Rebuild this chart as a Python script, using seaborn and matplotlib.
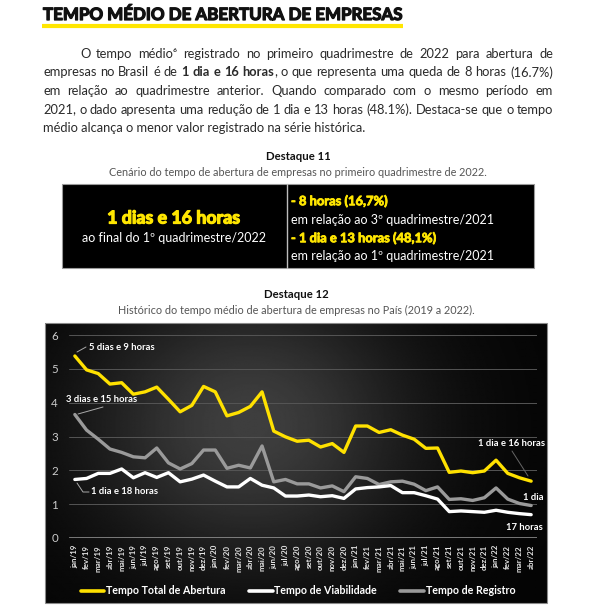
import numpy as np
import pandas as pd
import matplotlib
matplotlib.use("Agg")
import matplotlib.pyplot as plt
import matplotlib.patheffects as pe
from matplotlib.patches import Rectangle
import seaborn as sns

# ---------------- data ----------------
months = ["jan/19", "fev/19", "mar/19", "abr/19", "mai/19", "jun/19", "jul/19", "ago/19",
          "set/19", "out/19", "nov/19", "dez/19", "jan/20", "fev/20", "mar/20", "abr/20",
          "mai/20", "jun/20", "jul/20", "ago/20", "set/20", "out/20", "nov/20", "dez/20",
          "jan/21", "fev/21", "mar/21", "abr/21", "mai/21", "jun/21", "jul/21", "ago/21",
          "set/21", "out/21", "nov/21", "dez/21", "jan/22", "fev/22", "mar/22", "abr/22"]
total = [5.38, 4.97, 4.86, 4.55, 4.59, 4.25, 4.32, 4.46, 4.10, 3.73, 3.92, 4.48,
         4.32, 3.61, 3.71, 3.89, 4.32, 3.16, 2.99, 2.86, 2.89, 2.69, 2.79, 2.53,
         3.31, 3.31, 3.12, 3.20, 3.04, 2.92, 2.65, 2.66, 1.94, 1.98, 1.93, 1.98,
         2.30, 1.91, 1.78, 1.68]
viabilidade = [1.73, 1.76, 1.91, 1.91, 2.04, 1.78, 1.93, 1.79, 1.93, 1.66, 1.74, 1.86,
               1.68, 1.51, 1.51, 1.76, 1.56, 1.48, 1.24, 1.24, 1.27, 1.22, 1.25, 1.17,
               1.45, 1.49, 1.51, 1.55, 1.34, 1.34, 1.25, 1.15, 0.78, 0.80, 0.78, 0.76,
               0.82, 0.76, 0.72, 0.69]
registro = [3.65, 3.19, 2.92, 2.63, 2.53, 2.40, 2.37, 2.66, 2.22, 2.04, 2.20, 2.60,
            2.60, 2.06, 2.15, 2.07, 2.72, 1.66, 1.73, 1.60, 1.60, 1.48, 1.54, 1.37,
            1.81, 1.76, 1.58, 1.66, 1.68, 1.59, 1.40, 1.51, 1.14, 1.16, 1.11, 1.19,
            1.48, 1.15, 1.02, 0.96]
series_names = ["Tempo Total de Abertura", "Tempo de Viabilidade", "Tempo de Registro"]
series_colors = ["#FFE100", "#FFFFFF", "#9A9A9A"]
yticks = [0, 1, 2, 3, 4, 5, 6]

title = "TEMPO MÉDIO DE ABERTURA DE EMPRESAS"
para_lines = [
    [("O", "normal"), ("tempo", "normal"), ("médio⁶", "normal"), ("registrado", "normal"),
     ("no", "normal"), ("primeiro", "normal"), ("quadrimestre", "normal"), ("de", "normal"),
     ("2022", "normal"), ("para", "normal"), ("abertura", "normal"), ("de", "normal")],
    [("empresas", "normal"), ("no", "normal"), ("Brasil", "normal"), ("é", "normal"),
     ("de", "normal"), ("1", "bold"), ("dia", "bold"), ("e", "bold"), ("16", "bold"),
     ("horas|,", "bold|normal"), ("o", "normal"), ("que", "normal"), ("representa", "normal"),
     ("uma", "normal"), ("queda", "normal"), ("de", "normal"), ("8", "normal"),
     ("horas", "normal"), ("(16.7%)", "normal")],
    [("em", "normal"), ("relação", "normal"), ("ao", "normal"), ("quadrimestre", "normal"),
     ("anterior.", "normal"), ("Quando", "normal"), ("comparado", "normal"), ("com", "normal"),
     ("o", "normal"), ("mesmo", "normal"), ("período", "normal"), ("em", "normal")],
    [("2021,", "normal"), ("o", "normal"), ("dado", "normal"), ("apresenta", "normal"),
     ("uma", "normal"), ("redução", "normal"), ("de", "normal"), ("1", "normal"),
     ("dia", "normal"), ("e", "normal"), ("13", "normal"), ("horas", "normal"),
     ("(48.1%).", "normal"), ("Destaca-se", "normal"), ("que", "normal"), ("o", "normal"),
     ("tempo", "normal")],
]
para_last = "médio alcança o menor valor registrado na série histórica."

# ---------------- figure ----------------
sns.set_theme(style="white")
FAM = ["Lato", "DejaVu Sans"]
plt.rcParams["font.family"] = FAM

W, H = 600, 608
fig = plt.figure(figsize=(W / 100, H / 100), dpi=100)
fig.patch.set_facecolor("white")

def fbox(x0, y0, x1, y1):
    return [x0 / W, 1 - y1 / H, (x1 - x0) / W, (y1 - y0) / H]

def heavy(color, w=0.7):
    return [pe.withStroke(linewidth=w, foreground=color)]

# chart background with radial glow
bx0, by0, bx1, by1 = 45, 323, 547, 603
bg = fig.add_axes(fbox(bx0, by0, bx1, by1))
xx, yy = np.meshgrid(np.linspace(bx0, bx1, 400), np.linspace(by0, by1, 240))
glow = 0.015 + 0.23 * np.exp(-((xx - 250) / 165) ** 2 - ((yy - 425) / 140) ** 2)
bg.imshow(glow, cmap="gray", vmin=0, vmax=1, aspect="auto",
          extent=[bx0, bx1, by1, by0], interpolation="bilinear")
bg.set_xlim(bx0, bx1); bg.set_ylim(by1, by0)
bg.axis("off")

# main chart axes
ax = fig.add_axes(fbox(69, 335, 537, 538))
ax.patch.set_alpha(0)
x = np.arange(len(months))
order = [(registro, 2), (viabilidade, 1), (total, 0)]
handles = {}
for vals, k in order:
    df = pd.DataFrame({"mes": x, "valor": vals})
    sns.lineplot(data=df, x="mes", y="valor", ax=ax, color=series_colors[k],
                 linewidth=2.4, label=series_names[k], legend=False)
    handles[k] = ax.lines[-1]
ax.set_xlim(-0.5, 39.5)
ax.set_ylim(0, 6)
ax.set_yticks(yticks)
ax.set_yticklabels([str(v) for v in yticks])
ax.set_xticks(x)
ax.set_xticklabels(months, rotation=90)
ax.grid(axis="y", color="#555555", linewidth=0.7)
ax.grid(axis="x", visible=False)
ax.axhline(0, color="#9a9a9a", linewidth=1.8, zorder=1)
for s in ax.spines.values():
    s.set_visible(False)
ax.tick_params(axis="y", length=0, pad=8, labelsize=8.3, labelcolor="#cccccc")
ax.tick_params(axis="x", length=0, pad=5, labelsize=5.7, labelcolor="#e6e6e6")
for lab in ax.get_xticklabels():
    lab.set_fontweight("bold")
ax.set_xlabel(""); ax.set_ylabel("")

leg = fig.legend([handles[0], handles[1], handles[2]], series_names,
                 loc="center", bbox_to_anchor=(298 / W, 1 - 591 / H), ncol=3,
                 frameon=False, handlelength=2.2, handletextpad=0.15, columnspacing=2.2,
                 prop={"family": FAM, "weight": "bold", "size": 7.7})
for t in leg.get_texts():
    t.set_color("white")
for h in leg.legend_handles:
    h.set_linewidth(2.6)

# overlay axes in pixel coords
ov = fig.add_axes([0, 0, 1, 1])
ov.set_xlim(0, W); ov.set_ylim(H, 0)
ov.axis("off")

ov.add_patch(Rectangle((bx0, by0), bx1 - bx0, by1 - by0, fill=False,
                       edgecolor="#8a8a8a", linewidth=0.8))

# title
ov.text(43, 15, title, fontsize=12.2, fontweight="bold", color="#111111",
        ha="left", va="center", path_effects=heavy("#111111", 0.9))
ov.plot([42, 403], [25.5, 25.5], color="#FFE600", linewidth=3, solid_capstyle="butt")

# paragraph (justified)
renderer = fig.canvas.get_renderer()
PS = 9.3
PC = "#2a2a2a"

def seg_width(text, weight):
    t = ov.text(0, 0, text, fontsize=PS, fontweight=weight, family=FAM)
    w = t.get_window_extent(renderer).width
    t.remove()
    return w

line_y = [54, 72.5, 91, 109.5, 128]
left, right = 43, 553
for li, words in enumerate(para_lines):
    x0 = 80 if li == 0 else left
    pieces = []
    total_w = 0
    for txt, wt in words:
        segs = list(zip(txt.split("|"), wt.split("|")))
        ws = [seg_width(s, w) for s, w in segs]
        pieces.append((segs, ws))
        total_w += sum(ws)
    gap = (right - x0 - total_w) / (len(words) - 1)
    cx = x0
    for segs, ws in pieces:
        for (s, w), sw in zip(segs, ws):
            ov.text(cx, line_y[li], s, fontsize=PS, fontweight=w, color=PC,
                    ha="left", va="center", family=FAM)
            cx += sw
        cx += gap
ov.text(left, line_y[4], para_last, fontsize=PS, color=PC, ha="left", va="center")

# Destaque 11
ov.text(298, 156, "Destaque 11", fontsize=8.2, fontweight="bold", color="#111111",
        ha="center", va="center")
ov.text(298, 172, "Cenário do tempo de abertura de empresas no primeiro quadrimestre de 2022.",
        fontsize=7.8, color="#555555", ha="center", va="center")
ov.add_patch(Rectangle((62, 184), 472, 84, facecolor="black", edgecolor="#9a9a9a",
                       linewidth=0.8))
ov.plot([287, 287], [184, 268], color="#bdbdbd", linewidth=1)
ov.text(174, 218, "1 dias e 16 horas", fontsize=12.8, fontweight="bold", color="#FFE600",
        ha="center", va="center", path_effects=heavy("#FFE600", 0.9))
ov.text(174, 237.5, "ao final do 1º quadrimestre/2022", fontsize=9, color="white",
        ha="center", va="center")
ov.text(291, 201, "- 8 horas (16,7%)", fontsize=9.3, fontweight="bold", color="#FFE600",
        ha="left", va="center", path_effects=heavy("#FFE600", 0.6))
ov.text(291, 219.5, "em relação ao 3º quadrimestre/2021", fontsize=9, color="white",
        ha="left", va="center")
ov.text(291, 238, "- 1 dia e 13 horas (48,1%)", fontsize=9.3, fontweight="bold",
        color="#FFE600", ha="left", va="center", path_effects=heavy("#FFE600", 0.6))
ov.text(291, 256.5, "em relação ao 1º quadrimestre/2021", fontsize=9, color="white",
        ha="left", va="center")

# Destaque 12
ov.text(296, 294, "Destaque 12", fontsize=8.2, fontweight="bold", color="#111111",
        ha="center", va="center")
ov.text(296, 310, "Histórico do tempo médio de abertura de empresas no País (2019 a 2022).",
        fontsize=7.8, color="#555555", ha="center", va="center")

# chart annotations
AF = dict(fontsize=6.8, fontweight="bold", color="white", va="center")
ov.text(89, 348, "5 dias e 9 horas", ha="left", **AF)
ov.plot([77, 86], [352, 347], color="#aaaaaa", linewidth=0.7)
ov.text(66, 400, "3 dias e 15 horas", ha="left", **AF)
ov.plot([78, 103], [414, 407], color="#aaaaaa", linewidth=0.7)
ov.text(91, 492, "1 dia e 18 horas", ha="left", **AF)
ov.plot([77, 83, 89], [483, 492, 492], color="#aaaaaa", linewidth=0.7)
ov.text(545, 444, "1 dia e 16 horas", ha="right", **AF)
ov.plot([512, 528], [451, 476], color="#666666", linewidth=0.7)
ov.text(544, 497, "1 dia", ha="right", **AF)
ov.text(543, 528, "17 horas", ha="right", **AF)

fig.savefig("out.png", dpi=100, facecolor="white")
